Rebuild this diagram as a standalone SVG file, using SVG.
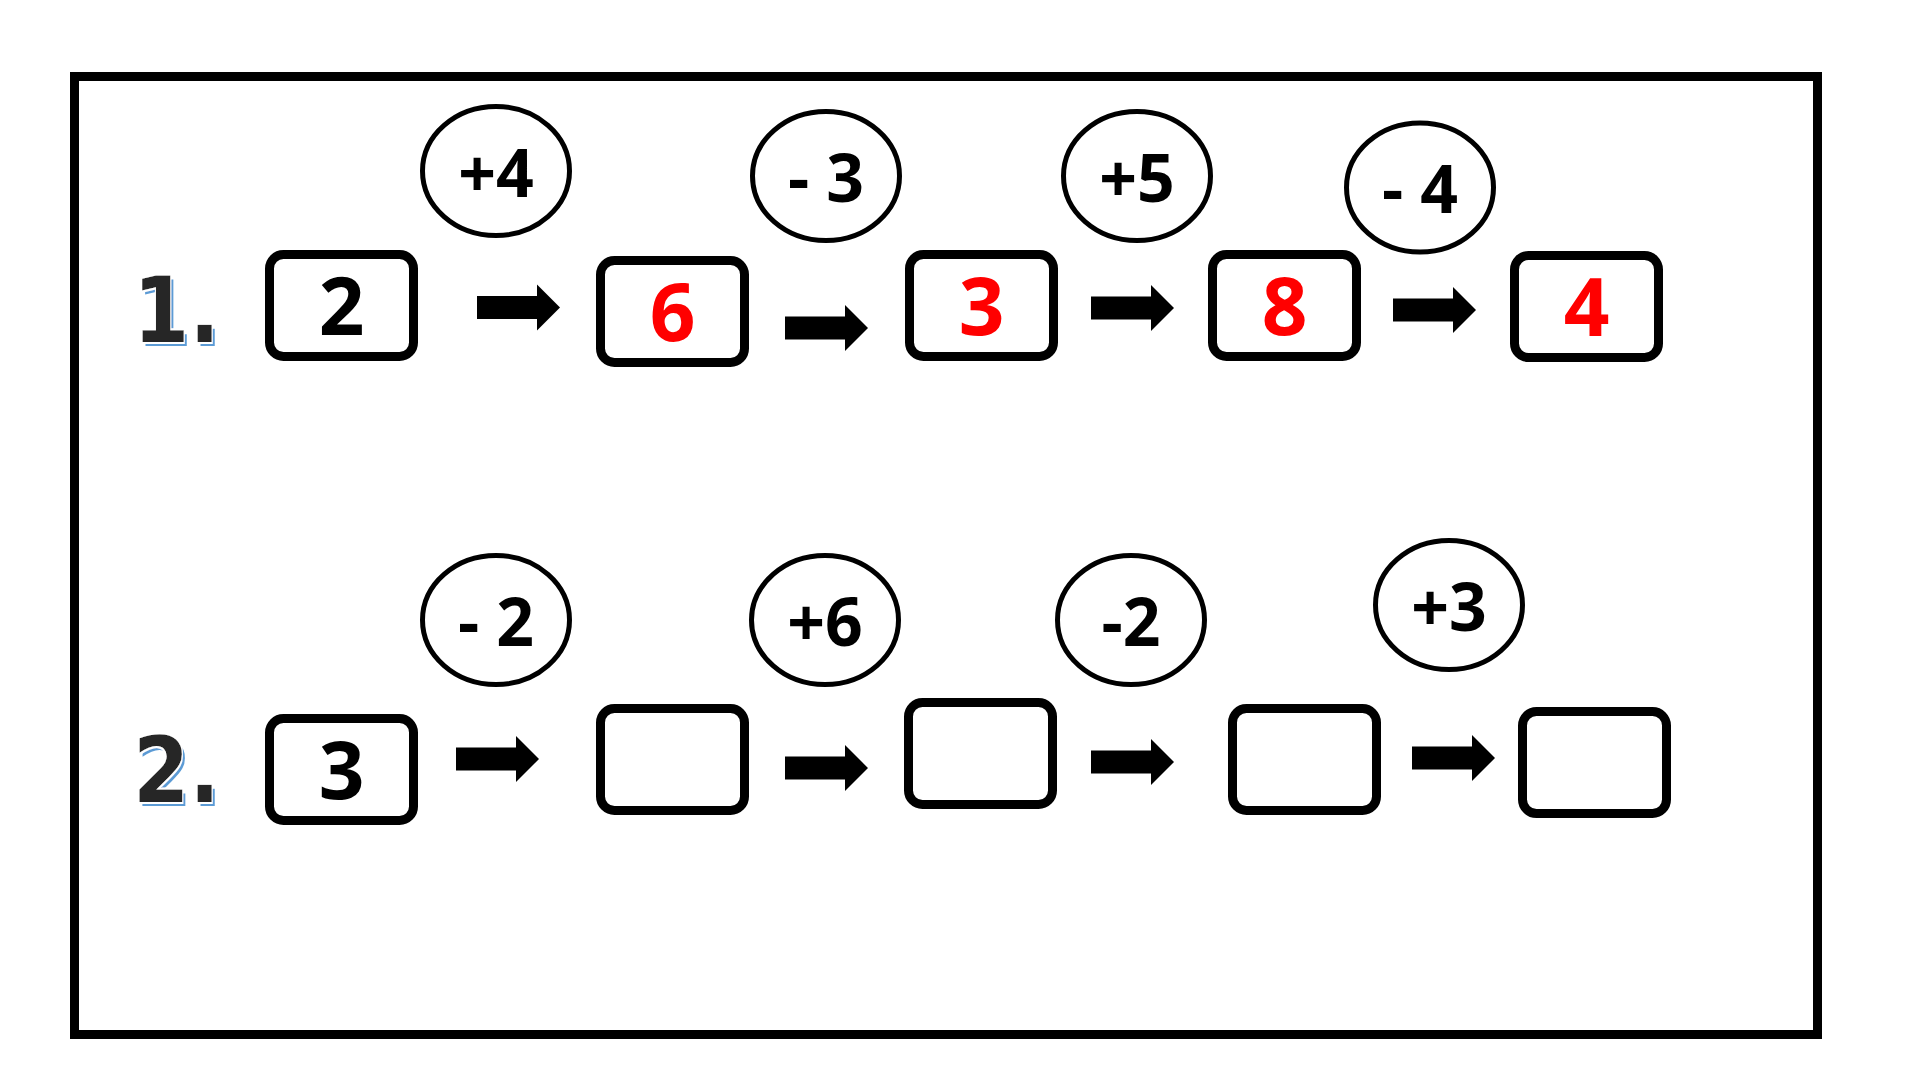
<svg xmlns="http://www.w3.org/2000/svg" width="1920" height="1080" viewBox="0 0 1920 1080">
  <style>
    .frame { fill: none; stroke: #000; stroke-width: 9; }
    .box { fill: #fff; stroke: #000; stroke-width: 9; }
    .op { fill: #fff; stroke: #000; stroke-width: 5; }
    .optxt { font-family: "Open Sans", "Noto Sans", sans-serif; font-weight: 700; font-size: 66px; fill: #000; text-anchor: middle; }
    .num { font-family: "Open Sans", "Noto Sans", sans-serif; font-weight: 700; font-size: 80px; text-anchor: middle; }
    .blk { fill: #000; }
    .red { fill: #ff0000; }
    .lbl { font-family: "DejaVu Sans", sans-serif; font-weight: 700; font-size: 90px; fill: #262626; filter: url(#shadow); }
    .arrow { fill: #000; }
  </style>
  <defs>
    <path id="arr" d="M0,-11.5 H60 V-23 L83,0 L60,23 V11.5 H0 Z"/>
    <filter id="shadow" x="-20%" y="-20%" width="140%" height="140%">
      <feOffset in="SourceAlpha" dx="3" dy="4" result="off"/>
      <feFlood flood-color="#5b9bd5" result="blueFill"/>
      <feComposite in="blueFill" in2="off" operator="in" result="blue"/>
      <feMorphology in="SourceAlpha" operator="dilate" radius="1.5" result="dil"/>
      <feFlood flood-color="#ffffff" result="whiteFill"/>
      <feComposite in="whiteFill" in2="dil" operator="in" result="white"/>
      <feMerge>
        <feMergeNode in="blue"/>
        <feMergeNode in="white"/>
        <feMergeNode in="SourceGraphic"/>
      </feMerge>
    </filter>
  </defs>
  <rect x="0" y="0" width="1920" height="1080" fill="#fff"/>
  <rect class="frame" x="74.5" y="76.5" width="1743" height="958"/>

  <!-- Row labels -->
  <g id="label1"><text class="lbl" x="133" y="342" transform="translate(133 0) scale(0.9 1) translate(-133 0)">1.</text></g>
  <g id="label2"><text class="lbl" x="133" y="802" transform="translate(133 0) scale(0.9 1) translate(-133 0)">2.</text></g>

  <!-- Row 1 boxes -->
  <g id="r1b1"><rect class="box" x="269.5" y="254.5" width="144" height="102" rx="14"/><text class="num blk" x="341.5" y="335">2</text></g>
  <g id="r1b2"><rect class="box" x="600.5" y="260.5" width="144" height="102" rx="14"/><text class="num red" x="672.5" y="341">6</text></g>
  <g id="r1b3"><rect class="box" x="909.5" y="254.5" width="144" height="102" rx="14"/><text class="num red" x="981.5" y="335">3</text></g>
  <g id="r1b4"><rect class="box" x="1212.5" y="254.5" width="144" height="102" rx="14"/><text class="num red" x="1284.5" y="335">8</text></g>
  <g id="r1b5"><rect class="box" x="1514.5" y="255.5" width="144" height="102" rx="14"/><text class="num red" x="1586.5" y="336">4</text></g>

  <!-- Row 1 operations -->
  <g id="r1o1"><ellipse class="op" cx="496" cy="171" rx="73.5" ry="64.5"/><text class="optxt" x="496" y="196.5">+4</text></g>
  <g id="r1o2"><ellipse class="op" cx="826" cy="176" rx="73.5" ry="64.5"/><text class="optxt" x="826" y="201.5">- 3</text></g>
  <g id="r1o3"><ellipse class="op" cx="1137" cy="176" rx="73.5" ry="64.5"/><text class="optxt" x="1137" y="201.5">+5</text></g>
  <g id="r1o4"><ellipse class="op" cx="1420" cy="187.5" rx="73.5" ry="64.5"/><text class="optxt" x="1420" y="213">- 4</text></g>

  <!-- Row 2 boxes -->
  <g id="r2b1"><rect class="box" x="269.5" y="718.5" width="144" height="102" rx="14"/><text class="num blk" x="341.5" y="799">3</text></g>
  <g id="r2b2"><rect class="box" x="600.5" y="708.5" width="144" height="102" rx="14"/></g>
  <g id="r2b3"><rect class="box" x="908.5" y="702.5" width="144" height="102" rx="14"/></g>
  <g id="r2b4"><rect class="box" x="1232.5" y="708.5" width="144" height="102" rx="14"/></g>
  <g id="r2b5"><rect class="box" x="1522.5" y="711.5" width="144" height="102" rx="14"/></g>

  <!-- Row 2 operations -->
  <g id="r2o1"><ellipse class="op" cx="496" cy="620" rx="73.5" ry="64.5"/><text class="optxt" x="496" y="645.5">- 2</text></g>
  <g id="r2o2"><ellipse class="op" cx="825" cy="620" rx="73.5" ry="64.5"/><text class="optxt" x="825" y="645.5">+6</text></g>
  <g id="r2o3"><ellipse class="op" cx="1131" cy="620" rx="73.5" ry="64.5"/><text class="optxt" x="1131" y="645.5">-2</text></g>
  <g id="r2o4"><ellipse class="op" cx="1449" cy="605" rx="73.5" ry="64.5"/><text class="optxt" x="1449" y="630.5">+3</text></g>

  <!-- Connectors -->
  <g id="connectors" class="arrow">
    <use href="#arr" x="477" y="307.5"/>
    <use href="#arr" x="785" y="328"/>
    <use href="#arr" x="1091" y="308"/>
    <use href="#arr" x="1393" y="310"/>
    <use href="#arr" x="456" y="759"/>
    <use href="#arr" x="785" y="768"/>
    <use href="#arr" x="1091" y="762"/>
    <use href="#arr" x="1412" y="758"/>
  </g>
</svg>
